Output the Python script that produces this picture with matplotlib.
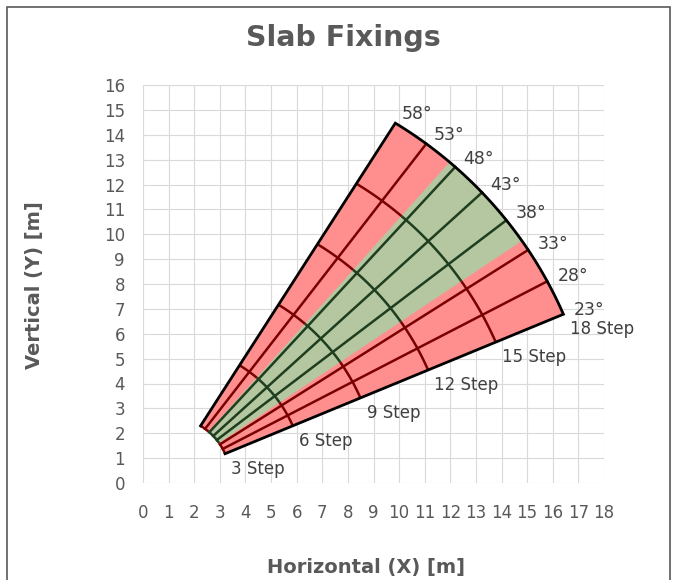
import numpy as np
import matplotlib
matplotlib.use("Agg")
import matplotlib.pyplot as plt
from matplotlib.patches import Polygon, Rectangle

# fan geometry
angles = [23, 28, 33, 38, 43, 48, 53, 58]
angle_labels = ["23°", "28°", "33°", "38°", "43°", "48°", "53°", "58°"]
steps = [3, 6, 9, 12, 15, 18]
step_labels = ["3 Step", "6 Step", "9 Step", "12 Step", "15 Step", "18 Step"]
radii = [2.45, 5.32, 8.19, 11.06, 13.93, 16.8]
origin = (0.95, 0.22)
green_band = (34.5, 49.0)
green_lines = [38, 43, 48]

RED_FILL = "#ff8f8f"
GREEN_FILL = "#b4c7a0"
RED_LINE = "#7a0000"
GREEN_LINE = "#1f3d1f"
GREY = "#595959"


def point(r, a):
    t = np.radians(a)
    return origin[0] + r * np.cos(t), origin[1] + r * np.sin(t)


def arc(r, a0, a1, n=60):
    t = np.linspace(a0, a1, n)
    return [point(r, a) for a in t]


fig = plt.figure(figsize=(6.75, 5.8), dpi=100)
ax = fig.add_axes([143 / 675, 1 - 483 / 580, 461 / 675, 398 / 580])

r_in, r_out = radii[0], radii[-1]
lo, hi = angles[0], angles[-1]

# filled areas
fan = arc(r_out, lo, hi) + arc(r_in, hi, lo)
ax.add_patch(Polygon(fan, closed=True, facecolor=RED_FILL, edgecolor="none", zorder=2))
band = arc(r_out, *green_band) + arc(r_in, green_band[1], green_band[0])
ax.add_patch(Polygon(band, closed=True, facecolor=GREEN_FILL, edgecolor="none", zorder=3))

# arcs, split where they cross the green band
for r in radii[:-1]:
    for a0, a1, c in [(lo, green_band[0], RED_LINE),
                      (green_band[0], green_band[1], GREEN_LINE),
                      (green_band[1], hi, RED_LINE)]:
        xs, ys = zip(*arc(r, a0, a1, 30))
        ax.plot(xs, ys, color=c, lw=1.8, zorder=4, solid_capstyle="butt")

# radial lines
for a in angles[1:-1]:
    c = GREEN_LINE if a in green_lines else RED_LINE
    (x0, y0), (x1, y1) = point(r_in, a), point(r_out, a)
    ax.plot([x0, x1], [y0, y1], color=c, lw=1.8, zorder=4)

# outline
outline = [point(r_in, lo)] + arc(r_out, lo, hi) + [point(r_in, hi)]
xs, ys = zip(*outline)
ax.plot(xs, ys, color="black", lw=2, zorder=5, solid_joinstyle="miter")

# labels
for a, lab in zip(angles, angle_labels):
    x, y = point(17.25, a)
    ax.text(x, y, lab, ha="left", va="center", fontsize=12.5, color="#404040", zorder=6)
for r, lab in zip(radii, step_labels):
    x, y = point(r, lo)
    ax.text(x + 0.25, y - 0.6, lab, ha="left", va="center", fontsize=12, color="#404040", zorder=6)

ax.set_xlim(0, 18)
ax.set_ylim(0, 16)
ax.set_xticks(range(0, 19))
ax.set_yticks(range(0, 17))
ax.grid(True, color="#d9d9d9", lw=0.8, zorder=0)
ax.set_axisbelow(True)
for s in ax.spines.values():
    s.set_visible(False)
ax.tick_params(length=0, labelsize=12, labelcolor=GREY, pad=13)
ax.tick_params(axis="x", pad=15)

fig.text(343 / 675, 1 - 38 / 580, "Slab Fixings", ha="center", va="center",
         fontsize=20.5, fontweight="bold", color=GREY)
fig.text(366 / 675, 1 - 567 / 580, "Horizontal (X) [m]", ha="center", va="center",
         fontsize=14, fontweight="bold", color=GREY)
fig.text(35 / 675, 1 - 285 / 580, "Vertical (Y) [m]", ha="center", va="center",
         rotation=90, fontsize=14, fontweight="bold", color=GREY)

fig.patches.append(Rectangle((7 / 675, -0.02), 663 / 675, 1.02 - 7 / 580,
                             transform=fig.transFigure, fill=False,
                             edgecolor=GREY, lw=1.2))

fig.savefig("out.png", dpi=100)
